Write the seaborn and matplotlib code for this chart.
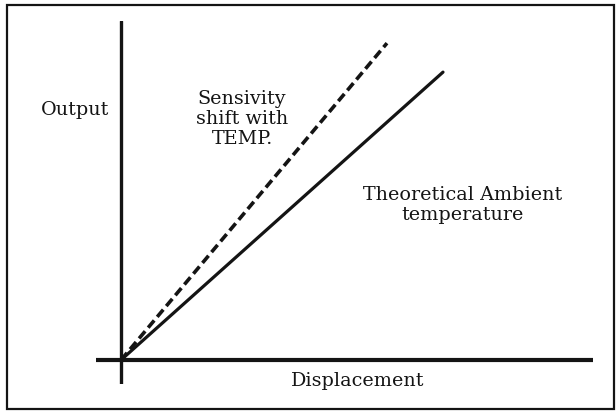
import matplotlib
matplotlib.use("Agg")
import matplotlib.pyplot as plt
import seaborn as sns
import pandas as pd
from matplotlib.patches import Rectangle

# Data (arbitrary units)
displacement_theoretical = [0.0, 10.0]
output_theoretical = [0.0, 8.94]
displacement_shift = [0.0, 8.26]
output_shift = [0.0, 9.84]

label_output = "Output"
label_displacement = "Displacement"
label_shift = "Sensivity\nshift with\nTEMP."
label_theoretical = "Theoretical Ambient\ntemperature"

sns.set_style("white")
plt.rcParams['font.family'] = ['DejaVu Serif', 'DejaVu Sans']

W, H = 616, 414
fig = plt.figure(figsize=(W / 100, H / 100), dpi=100)
fig.patch.set_facecolor("white")

# axes in pixel placement: left=96, right=593, top=22, bottom=385
ax = fig.add_axes([96 / W, 1 - 385 / H, (593 - 96) / W, (385 - 22) / H])
ax.set_xlim(-25 / 32.2, 472 / 32.2)
ax.set_ylim(-24 / 32.2, 339 / 32.2)

ink = "#141414"
ax.axhline(0, color=ink, lw=3.0, zorder=3)
ax.axvline(0, color=ink, lw=2.4, zorder=3)

df_t = pd.DataFrame({"x": displacement_theoretical, "y": output_theoretical})
df_s = pd.DataFrame({"x": displacement_shift, "y": output_shift})
sns.lineplot(data=df_t, x="x", y="y", ax=ax, color=ink, lw=2.3, estimator=None, sort=False)
sns.lineplot(data=df_s, x="x", y="y", ax=ax, color=ink, lw=2.6, estimator=None, sort=False,
             dashes=False, linestyle=(0, (2.6, 1.3)))
ax.axis("off")

fs = 13.8
fig.text(75 / W, 1 - 110 / H, label_output, ha="center", va="center", fontsize=fs, color=ink)
fig.text(242 / W, 1 - 119 / H, label_shift, ha="center", va="center", fontsize=fs,
         color=ink, linespacing=1.12)
fig.text(463 / W, 1 - 205 / H, label_theoretical, ha="center", va="center", fontsize=fs,
         color=ink, linespacing=1.12)
fig.text(358 / W, 1 - 381 / H, label_displacement, ha="center", va="center", fontsize=fs, color=ink)

# outer frame
fig.patches.append(Rectangle((7 / W, 1 - 410 / H), (614 - 7) / W, (410 - 6) / H,
                             transform=fig.transFigure, fill=False, edgecolor=ink, lw=1.6))

fig.savefig("out.png", dpi=100)
